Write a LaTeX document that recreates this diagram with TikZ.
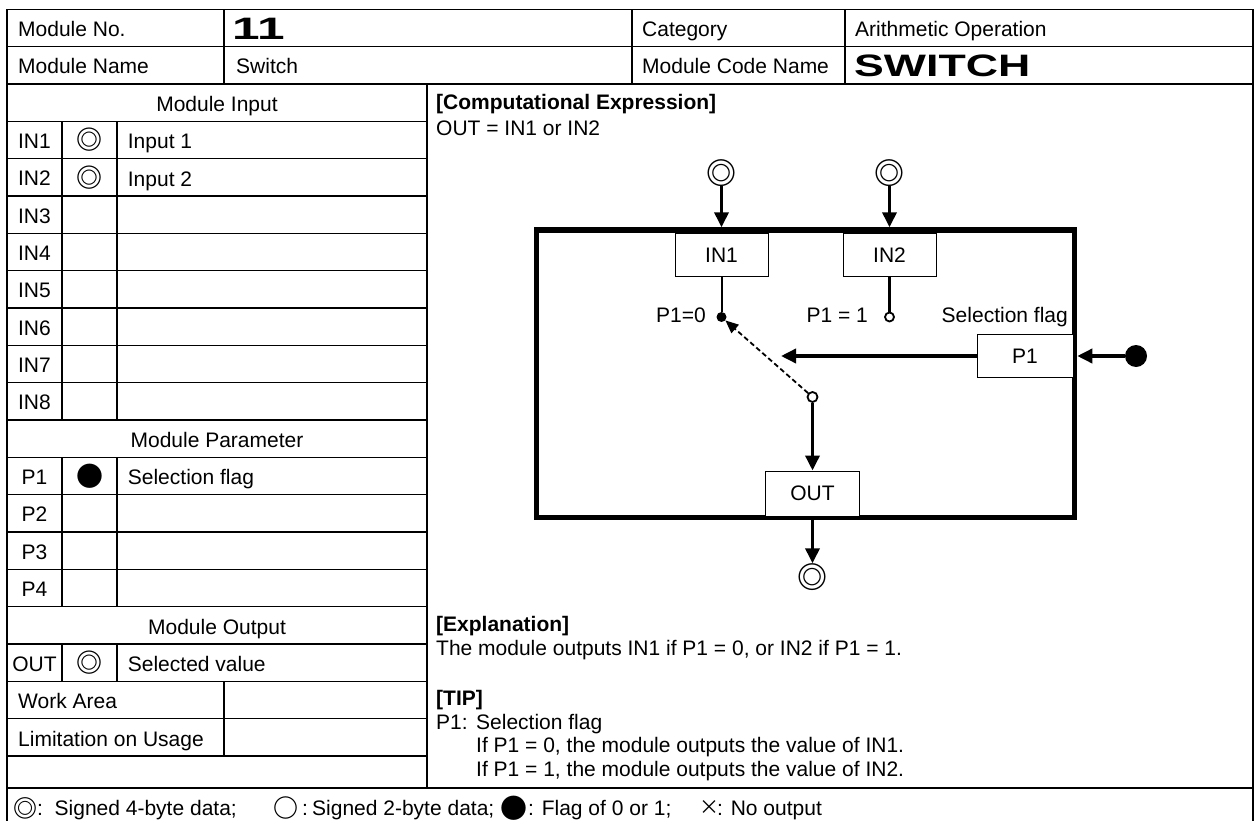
\documentclass[tikz,border=0pt]{standalone}
\usepackage{fontspec}
\setmainfont{Liberation Sans}
\newfontfamily\cjk{Noto Sans CJK SC}
\usetikzlibrary{arrows.meta}
\newcommand\fs{\fontsize{21}{25}\selectfont}
\newcommand\bigb{\fontsize{31}{31}\selectfont\bfseries}
\newcommand\symsz[1]{\cjk\bfseries\fontsize{#1}{#1}\selectfont}
\begin{document}
\begin{tikzpicture}[x=1pt,y=-1pt,
  grid/.style={line width=1.3pt, line cap=rect},
  txt/.style={anchor=base west, inner sep=0pt, font=\fs},
  ctr/.style={anchor=base, inner sep=0pt, font=\fs},
  btxt/.style={anchor=base west, inner sep=0pt, font=\fs\bfseries},
  dsym/.style={inner sep=0pt, font=\symsz{26}},
  fbox/.style={draw, line width=1pt, fill=white, inner sep=0pt, font=\fs, minimum height=43pt},
  arr/.style={line width=3.5pt, -{Triangle[length=15pt,width=14pt]}},
  ]
\useasboundingbox (0,0) rectangle (1255,821);
\fill[white] (0,0) rectangle (1255,821);
% ---------- table grid ----------
\draw[grid] (7,9.3) -- (1253,9.3);
\draw[grid] (7,46.6) -- (1253,46.6);
\draw[grid] (7,84) -- (1253,84);
\draw[grid] (7,788) -- (1253,788);
\draw[grid] (7,9.3) -- (7,821);
\draw[grid] (1253,9.3) -- (1253,821);
\draw[grid] (224,9.3) -- (224,84);
\draw[grid] (632,9.3) -- (632,84);
\draw[grid] (845,9.3) -- (845,84);
\draw[grid] (427,84) -- (427,788);
\foreach \k in {3,...,20} {\draw[grid] (7,{9.3+37.333*\k}) -- (427,{9.3+37.333*\k});}
\foreach \xx in {62,117} {
  \draw[grid] (\xx,121.3) -- (\xx,420);
  \draw[grid] (\xx,457.3) -- (\xx,606.6);
  \draw[grid] (\xx,644) -- (\xx,681.3);
}
\draw[grid] (224,681.3) -- (224,756);
% ---------- header ----------
\node[txt] (hno) at (18,36.5) {Module No.};
\node[anchor=base west, inner sep=0pt, font=\bigb] (hnum) at (232,39.5) {\scalebox{1.6}[1]{11}};
\node[txt] (hcat) at (642,36.5) {Category};
\node[txt] (hcatv) at (855,36.5) {Arithmetic Operation};
\node[txt] (hname) at (18,73.8) {Module Name};
\node[txt] (hnamev) at (236,73.8) {Switch};
\node[txt] (hcode) at (642,73.8) {Module Code Name};
\node[anchor=base west, inner sep=0pt, font=\bigb] (hcodev) at (854,76.8) {\scalebox{1.44}[1]{SWITCH}};
% ---------- left panel ----------
\node[ctr] (tin) at (217,{9.3+37.333*2.5+8.7}) {Module Input};
\foreach \i in {1,...,8} {
  \pgfmathsetmacro\cy{9.3+37.333*(\i+2.5)}
  \node[ctr] (inl\i) at (34.5,\cy+8.7) {IN\i};
}
\node[dsym] (ins1) at (89.5,140) {◎};
\node[txt] (ind1) at (127.7,148.7) {Input 1};
\node[dsym] (ins2) at (89.5,177.3) {◎};
\node[txt] (ind2) at (127.7,186) {Input 2};
\node[ctr] (tpar) at (217,{9.3+37.333*11.5+8.7}) {Module Parameter};
\foreach \i in {1,...,4} {
  \pgfmathsetmacro\cy{9.3+37.333*(\i+11.5)}
  \node[ctr] (pl\i) at (34.5,\cy+8.7) {P\i};
}
\node[inner sep=0pt, font=\symsz{27}] (ps1) at (89.5,476) {●};
\node[txt] (pd1) at (127.7,484.7) {Selection flag};
\node[ctr] (tout) at (217,{9.3+37.333*16.5+8.7}) {Module Output};
\node[ctr] (outl) at (34.5,{9.3+37.333*17.5+8.7}) {OUT};
\node[dsym] (outs) at (89.5,662.6) {◎};
\node[txt] (outd) at (127.7,671.3) {Selected value};
\node[txt] (work) at (18,708.7) {Work Area};
\node[txt] (limit) at (18,746) {Limitation on Usage};
% ---------- legend ----------
\node[inner sep=0pt, font=\symsz{24}] (lg1) at (25.5,808) {◎};
\node[txt] (lg1t) at (37,815) {:\ \ Signed 4-byte data;};
\node[inner sep=0pt, font=\symsz{25}] (lg2) at (286,808) {○};
\node[txt] (lg2c) at (302,815) {:};
\node[txt] (lg2t) at (312,815) {Signed 2-byte data;};
\node[inner sep=0pt, font=\symsz{27}] (lg3) at (514,808) {●};
\node[txt] (lg3t) at (528,815) {: Flag of 0 or 1;};
\node[inner sep=0pt, font=\cjk\fontsize{20}{20}\selectfont] (lg4) at (709,808) {×};
\node[txt] (lg4t) at (717,815) {: No output};
% ---------- right panel text ----------
\node[btxt] (ce) at (436,110) {[Computational Expression]};
\node[txt] (ceq) at (436,136) {OUT = IN1 or IN2};
\node[btxt] (ex) at (436,631) {[Explanation]};
\node[txt] (ext) at (436,655) {The module outputs IN1 if P1 = 0, or IN2 if P1 = 1.};
\node[btxt] (tip) at (436,705) {[TIP]};
\node[txt] (tip1) at (436,729) {P1:};
\node[txt] (tip1b) at (476,729) {Selection flag};
\node[txt] (tip2) at (476,752.5) {If P1 = 0, the module outputs the value of IN1.};
\node[txt] (tip3) at (476,776) {If P1 = 1, the module outputs the value of IN2.};
% ---------- diagram ----------
\node[draw, line width=5.5pt, minimum width=538pt, minimum height=287.5pt, inner sep=0pt] (mod) at (805.5,373.8) {};
\node[fbox, minimum width=93pt] (in1) at (721.5,255) {IN1};
\node[fbox, minimum width=93pt] (in2) at (889.5,255) {IN2};
\node[fbox, minimum width=96pt] (p1) at (1025,356) {P1};
\node[fbox, minimum width=94pt, minimum height=45pt] (out) at (812.5,493.5) {OUT};
\node[dsym, font=\symsz{30}] (src1) at (721.5,172.7) {◎};
\node[dsym, font=\symsz{30}] (src2) at (889.5,172.7) {◎};
\node[dsym, font=\symsz{30}] (dst) at (812.5,577) {◎};
\node[circle, fill=black, inner sep=0pt, minimum size=10pt] (d0) at (721.5,317) {};
\node[circle, draw, line width=1.8pt, fill=white, inner sep=0pt, minimum size=9pt] (d1) at (889.5,317) {};
\node[circle, draw, line width=1.8pt, fill=white, inner sep=0pt, minimum size=10pt] (pv) at (812.5,397) {};
\node[circle, fill=black, inner sep=0pt, minimum size=22pt] (flag) at (1136,356) {};
\node[anchor=base east, inner sep=0pt, font=\fs] (l0) at (706,322) {P1=0};
\node[anchor=base east, inner sep=0pt, font=\fs] (l1) at (868,322) {P1 = 1};
\node[anchor=base east, inner sep=0pt, font=\fs] (lsel) at (1068,322) {Selection flag};
\coordinate (tipA) at (781,356);
\draw[arr] (src1) -- (mod.north -| in1);
\draw[arr] (src2) -- (mod.north -| in2);
\draw[line width=2pt] (in1.south) -- (d0);
\draw[line width=3pt] (in2.south) -- (d1);
\draw[arr] (p1.west) -- (tipA);
\draw[line width=1.8pt, dash pattern=on 5pt off 3pt, -{Triangle[length=13pt,width=11pt]}] (pv) -- (d0);
\draw[arr] (pv) -- (out.north);
\draw[arr] (mod.south -| out) -- (dst.north);
\draw[arr] (flag) -- (mod.east |- flag);
\end{tikzpicture}
\end{document}
